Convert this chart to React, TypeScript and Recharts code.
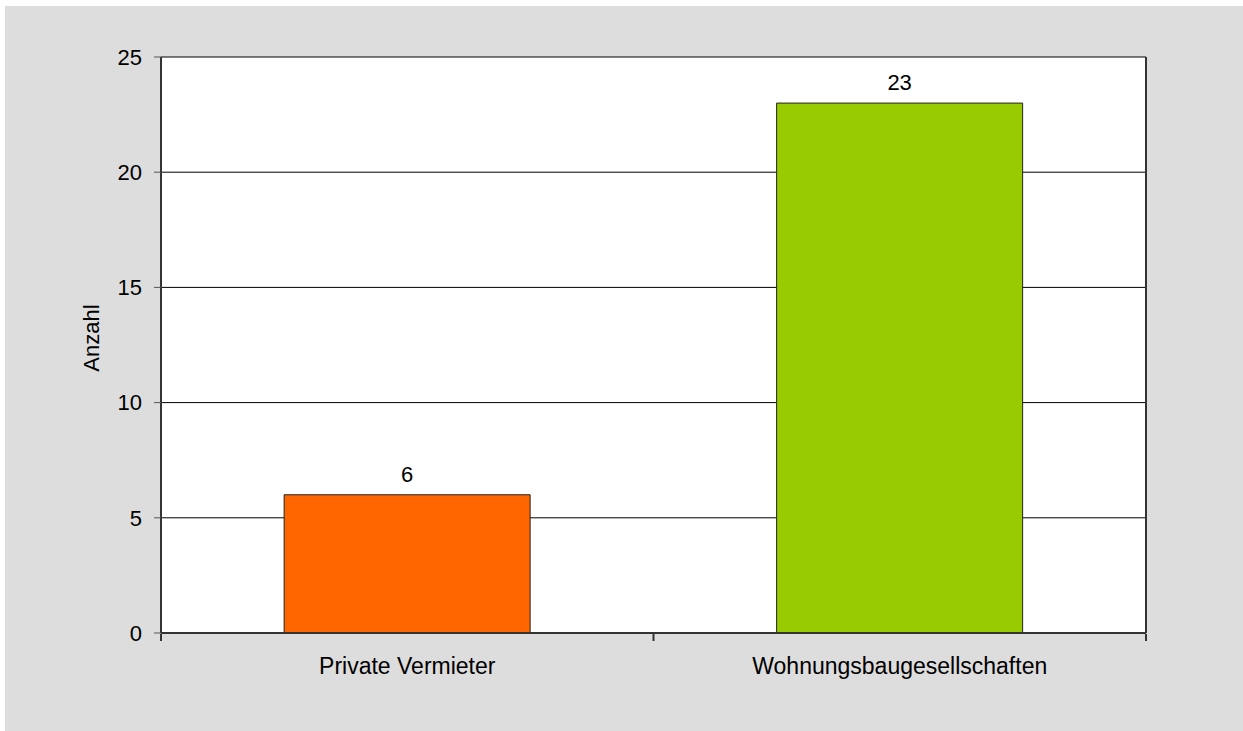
import { Bar, BarChart, CartesianGrid, Cell, LabelList, XAxis, YAxis } from "recharts";

const categories = ["Private Vermieter", "Wohnungsbaugesellschaften"];
const counts = [6, 23];
const barColors = ["#FF6600", "#99CC00"];
const yTicks = [0, 5, 10, 15, 20, 25];
const edgeTicks = [0, 1, 2];

const data = categories.map((name, i) => ({ name, anzahl: counts[i], edge: i }));

const font = { fontFamily: "'Liberation Sans', Arial, sans-serif", fontSize: 22, fill: "#000" };

function AxisTitle(props: any) {
  const vb = props.viewBox || { x: 0, y: 0, width: 156, height: 576 };
  const cx = vb.x + vb.width - 62;
  const cy = vb.y + vb.height / 2 - 7;
  return (
    <text x={cx} y={cy} transform={`rotate(-90, ${cx}, ${cy})`} textAnchor="middle" {...font}>
      Anzahl
    </text>
  );
}

export default function App() {
  return (
    <div style={{ position: "absolute", left: 5, top: 6, width: 1238, height: 725, background: "#DDDDDD" }}>
      <BarChart
        width={1238}
        height={725}
        data={data}
        margin={{ top: 51, right: 96, bottom: 96, left: 0 }}
        barCategoryGap="25%"
      >
        <CartesianGrid xAxisId="cat" yAxisId="left" vertical={false} stroke="#000" fill="#FFFFFF" />
        <XAxis
          xAxisId="cat"
          dataKey="name"
          height={1}
          tickLine={false}
          tickSize={0}
          tickMargin={25}
          axisLine={{ stroke: "#333", strokeWidth: 2 }}
          tick={{ ...font, fontSize: 23 }}
          interval={0}
        />
        <XAxis
          xAxisId="edge"
          dataKey="edge"
          type="number"
          domain={[0, 2]}
          allowDataOverflow
          ticks={edgeTicks}
          interval={0}
          height={1}
          tickFormatter={() => ""}
          tickSize={7}
          axisLine={false}
          tickLine={{ stroke: "#333", strokeWidth: 2 }}
        />
        <YAxis
          yAxisId="left"
          width={156}
          domain={[0, 25]}
          ticks={yTicks}
          tickSize={7}
          tickMargin={12}
          tick={font}
          axisLine={{ stroke: "#333", strokeWidth: 2 }}
          tickLine={{ stroke: "#555" }}
          label={<AxisTitle />}
        />
        <YAxis
          yAxisId="right"
          orientation="right"
          width={1}
          domain={[0, 25]}
          tick={false}
          tickLine={false}
          axisLine={{ stroke: "#333", strokeWidth: 2 }}
        />
        <Bar xAxisId="cat" yAxisId="left" dataKey="anzahl" stroke="#222" strokeWidth={1} isAnimationActive={false}>
          {data.map((d, i) => (
            <Cell key={d.name} fill={barColors[i]} />
          ))}
          <LabelList dataKey="anzahl" position="top" offset={13} style={font} />
        </Bar>
      </BarChart>
    </div>
  );
}
